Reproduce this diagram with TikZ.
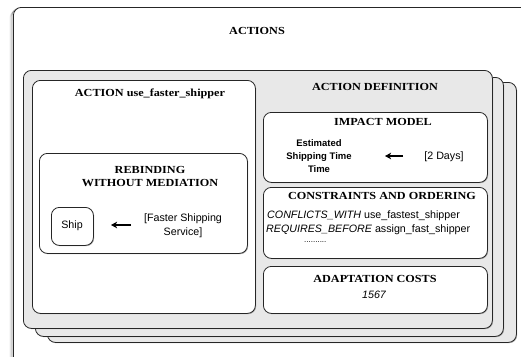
\documentclass[tikz,border=0pt]{standalone}
\usepackage{fontspec}
\setmainfont{Liberation Serif}
\setsansfont{Liberation Sans}
\newfontfamily\ttlfont{Liberation Serif Bold}[FakeStretch=1.13]
\usetikzlibrary{arrows.meta,shadows}
\tikzset{
  panel/.style={draw=black!85, line width=0.8pt, rounded corners=8pt, fill=black!9, inner sep=0pt, anchor=north west,
     drop shadow={shadow xshift=0.8pt, shadow yshift=-0.8pt, opacity=0.6}},
  wbox/.style={draw=black!85, line width=0.8pt, rounded corners=8pt, fill=white, inner sep=0pt, anchor=north west,
     drop shadow={shadow xshift=0.8pt, shadow yshift=-0.8pt, opacity=0.6}},
  ttl/.style={font=\fontsize{10.8}{13}\ttlfont, align=center, inner sep=0pt},
  sans/.style={font=\fontsize{10.7}{14}\selectfont\sffamily, align=center, inner sep=0pt},
  sansb/.style={font=\fontsize{9.5}{13}\selectfont\sffamily\bfseries, align=center, inner sep=0pt},
  arr/.style={-{Stealth[length=6pt,width=6.5pt,inset=1.5pt]}, line width=1.4pt},
}
\begin{document}
\begin{tikzpicture}[x=1pt,y=-1pt]
\useasboundingbox (0,0) rectangle (521,356);
% outer ACTIONS box with soft left shadow
\foreach \d/\o in {3/0.08,2/0.15,1/0.25}{
  \draw[rounded corners=8pt, line width=1pt, black, opacity=\o] (13-\d,7+\d) rectangle (560,380);
}
\node[wbox, drop shadow={opacity=0}, minimum width=547pt, minimum height=373pt] (actions) at (13,7) {};
\node[ttl] (actionsT) at (257,31) {ACTIONS};
% stacked panels
\node[panel, minimum width=469pt, minimum height=260pt] (p3) at (47,82) {};
\node[panel, minimum width=468pt, minimum height=259pt] (p2) at (35,77) {};
\node[panel, minimum width=469pt, minimum height=258pt] (p1) at (23,70) {};
% left action box
\node[wbox, minimum width=223pt, minimum height=233pt] (act) at (32,80) {};
\node[ttl] (actT) at (150,94) {ACTION use\_faster\_shipper};
\node[wbox, minimum width=208pt, minimum height=100pt] (reb) at (39,153) {};
\node[ttl] (rebT) at (150,176.5) {REBINDING\\WITHOUT MEDIATION};
\node[wbox, minimum width=42pt, minimum height=38pt] (ship) at (51,207) {};
\node[sans] (shipT) at (72,226) {Ship};
\node[sans] (fss) at (183,226) {[Faster Shipping\\Service]};
\coordinate (a1) at (131,225);
\coordinate (a2) at (111,225);
\draw[arr] (a1) -- (a2);
% action definition
\node[ttl] (defT) at (375,87) {ACTION DEFINITION};
\node[wbox, minimum width=224pt, minimum height=70pt] (imp) at (263,112) {};
\node[ttl] (impT) at (383,122) {IMPACT MODEL};
\node[sansb] (est) at (319,156) {Estimated\\Shipping Time\\Time};
\node[sans] (days) at (444,157) {[2 Days]};
\coordinate (b1) at (403,156);
\coordinate (b2) at (385,156);
\draw[arr] (b1) -- (b2);
\node[wbox, minimum width=224pt, minimum height=71pt] (con) at (263,187) {};
\node[ttl] (conT) at (382,196) {CONSTRAINTS AND ORDERING};
\node[sans, anchor=west] (c1) at (267,216) {\itshape CONFLICTS\_WITH\upshape\ use\_fastest\_shipper};
\node[sans, anchor=west] (c2) at (266,230) {\itshape REQUIRES\_BEFORE\upshape\ assign\_fast\_shipper};
\node[sans, anchor=west, font=\fontsize{8}{10}\selectfont\sffamily] (c3) at (304,242) {..........};
\node[wbox, minimum width=224pt, minimum height=47pt] (cost) at (263,266) {};
\node[ttl] (costT) at (375,279) {ADAPTATION COSTS};
\node[sans] (costV) at (374,295) {\itshape 1567};
\end{tikzpicture}
\end{document}
